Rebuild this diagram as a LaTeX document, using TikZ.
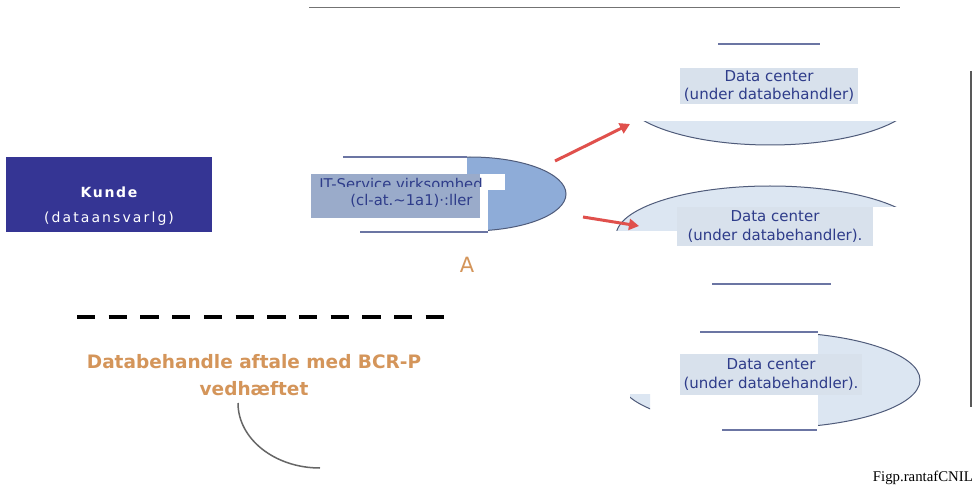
\documentclass[tikz,border=0pt]{standalone}
\usepackage{fontspec}
\setmainfont{DejaVu Sans}
\newfontfamily\capfont{Liberation Serif}
\usetikzlibrary{arrows.meta}
\definecolor{kundefill}{HTML}{353594}
\definecolor{itfill}{HTML}{8EACD8}
\definecolor{itboxc}{HTML}{9AABCA}
\definecolor{dcfill}{HTML}{DCE6F2}
\definecolor{dcboxc}{HTML}{D8E1EC}
\definecolor{txtblue}{HTML}{2E3C8A}
\definecolor{linblue}{HTML}{6B75A3}
\definecolor{edgec}{HTML}{4F5B7A}
\definecolor{tanc}{HTML}{D4955A}
\definecolor{redarrow}{HTML}{E0504C}
\begin{document}
\begin{tikzpicture}[x=1pt,y=-1pt,
  dcbox/.style={fill=dcboxc, text=txtblue, inner sep=0pt, align=center,
    font=\fontsize{15}{18.5}\selectfont},
  ittext/.style={text=txtblue, inner sep=0pt, font=\fontsize{14.8}{16}\selectfont},
  bluerule/.style={draw=linblue, line width=1.5pt},
  shapeedge/.style={draw=edgec, line width=1pt},
  redarr/.style={draw=redarrow, line width=3pt, -{Triangle[length=10pt,width=11pt]}},
  cover/.style={fill=white, draw=none}]
\useasboundingbox (0,0) rectangle (974,486);
\fill[white] (0,0) rectangle (974,486);

% top rule and right rule
\draw[draw=black!55, line width=1.5pt] (309,7.5) -- (900,7.5);
\draw[draw=black!65, line width=2pt] (971,71) -- (971,407);

% ---- Data center 1 (ellipse bottom only) ----
\begin{scope}
  \clip (600,122) rectangle (898,150);
  \draw[shapeedge, fill=dcfill] (770,95) ellipse [x radius=147, y radius=50];
\end{scope}
\draw[bluerule, line width=2pt] (718,44.5) -- (820,44.5);
\node[dcbox, minimum width=178pt, minimum height=36pt] (dc1) at (769,86)
  {Data center\\(under databehandler)};

% ---- Data center 2 (ellipse top only) ----
\begin{scope}
  \clip (600,180) rectangle (898,231);
  \draw[shapeedge, fill=dcfill] (770,236) ellipse [x radius=154, y radius=50];
\end{scope}
\fill[cover] (872,207) rectangle (905,240);
\node[dcbox, minimum width=196pt, minimum height=39pt] (dc2) at (775,226.5)
  {Data center\\(under databehandler).};
\draw[bluerule] (712,284) -- (831,284);

% ---- Data center 3 (ellipse right part) ----
\draw[shapeedge, fill=dcfill] (770,380) ellipse [x radius=150, y radius=48];
\fill[cover] (615,318) rectangle (818,354);
\fill[cover] (615,354) rectangle (680,440);
\fill[cover] (615,395) rectangle (818,440);
\begin{scope}
  \clip (630,394) rectangle (650,412);
  \draw[shapeedge, fill=dcfill] (770,380) ellipse [x radius=150, y radius=48];
\end{scope}
\draw[bluerule] (700,332) -- (818,332);
\draw[bluerule] (722,430) -- (817,430);
\node[dcbox, minimum width=182pt, minimum height=41pt] (dc3) at (771,374.5)
  {Data center\\(under databehandler).};

% ---- IT-Service ----
\draw[shapeedge, fill=itfill] (470,194) ellipse [x radius=96, y radius=37];
\fill[cover] (300,150) rectangle (467,174);
\fill[cover] (300,218) rectangle (488,240);
\fill[cover] (467,174) rectangle (505,190);
\fill[cover] (480,190) rectangle (488,218);
\draw[bluerule] (343,157) -- (467,157);
\draw[bluerule] (360,232) -- (488,232);
\node[fill=itboxc, minimum width=169pt, minimum height=44pt, inner sep=0pt] (itbox) at (395.5,196) {};
\begin{scope}
  \clip (311,174) rectangle (482,187);
  \node[ittext, anchor=base] (itl1) at (401,190) {IT-Service virksomhed};
\end{scope}
\node[ittext, anchor=base] (itl2) at (411.5,205.5) {(cl-at.\textasciitilde1a1)·:ller};
\node[text=tanc, inner sep=0pt, font=\fontsize{21}{21}\selectfont] (lblA) at (467,265) {A};

% ---- arrows ----
\coordinate (a1s) at (555,161);
\coordinate (a1e) at (630,124);
\coordinate (a2s) at (583,217);
\coordinate (a2e) at (639,226);
\draw[redarr] (a1s) -- (a1e);
\draw[redarr] (a2s) -- (a2e);

% ---- Kunde ----
\node[fill=kundefill, minimum width=206pt, minimum height=75pt, inner sep=0pt] (kunde) at (109,194.5) {};
\node[text=white, align=center, inner sep=0pt, font=\fontsize{14}{25}\selectfont] (kundetxt) at (109,206)
  {{\bfseries\addfontfeatures{LetterSpace=12}Kunde}\\{\addfontfeatures{LetterSpace=15}(dataansvarlg)}};

% ---- dashed separator ----
\draw[line width=4pt, dash pattern=on 18.3pt off 13.4pt] (77,317) -- (444,317);

% ---- agreement text ----
\node[text=tanc, align=center, inner sep=0pt, font=\fontsize{18.5}{27}\bfseries] (agree) at (254,375.5)
  {Databehandle aftale med BCR-P\\vedhæftet};
\draw[draw=black!60, line width=1.5pt] (238,403) arc[start angle=180, end angle=90, x radius=82, y radius=65];

% ---- caption ----
\node[anchor=east, inner sep=0pt, font=\capfont\fontsize{14.8}{15}\selectfont] (caption) at (973,478) {Figp.rantafCNIL};
\end{tikzpicture}
\end{document}
